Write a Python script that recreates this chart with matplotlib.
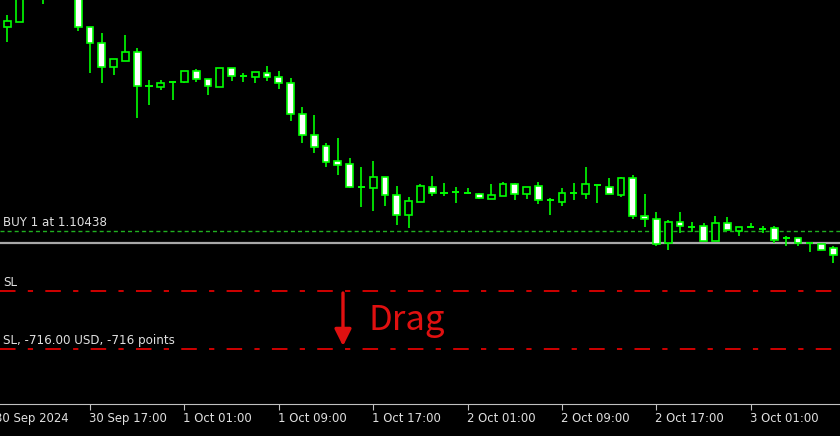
import numpy as np
import matplotlib
matplotlib.use('Agg')
import matplotlib.pyplot as plt

# hourly candles, 30 Sep 10:00 .. 3 Oct 08:00
opens = [1.11681, 1.11711, 1.11936, 1.11894, 1.11997, 1.12089, 1.11967, 1.11681, 1.11583, 1.11437,
         1.11474, 1.11528, 1.11321, 1.11315, 1.11346, 1.11346, 1.11413, 1.11364, 1.11315, 1.11431,
         1.11382, 1.11376, 1.11400, 1.11376, 1.11340, 1.11151, 1.11023, 1.10956, 1.10865, 1.10846,
         1.10706, 1.10700, 1.10767, 1.10657, 1.10536, 1.10615, 1.10706, 1.10670, 1.10676, 1.10670,
         1.10664, 1.10633, 1.10651, 1.10724, 1.10664, 1.10712, 1.10627, 1.10615, 1.10670, 1.10664,
         1.10718, 1.10706, 1.10657, 1.10761, 1.10530, 1.10511, 1.10365, 1.10493, 1.10463, 1.10469,
         1.10377, 1.10487, 1.10438, 1.10463, 1.10450, 1.10456, 1.10396, 1.10396, 1.10365, 1.10359,
         1.10335]
highs = [1.11754, 1.11955, 1.12058, 1.12028, 1.12137, 1.12119, 1.11979, 1.11681, 1.11644, 1.11486,
         1.11632, 1.11553, 1.11358, 1.11358, 1.11352, 1.11413, 1.11425, 1.11364, 1.11431, 1.11431,
         1.11400, 1.11407, 1.11443, 1.11413, 1.11370, 1.11193, 1.11145, 1.10974, 1.11005, 1.10883,
         1.10828, 1.10865, 1.10767, 1.10712, 1.10645, 1.10724, 1.10773, 1.10731, 1.10706, 1.10700,
         1.10670, 1.10724, 1.10737, 1.10731, 1.10706, 1.10737, 1.10639, 1.10700, 1.10731, 1.10828,
         1.10718, 1.10761, 1.10767, 1.10779, 1.10664, 1.10554, 1.10505, 1.10554, 1.10493, 1.10487,
         1.10530, 1.10523, 1.10463, 1.10487, 1.10469, 1.10469, 1.10408, 1.10396, 1.10365, 1.10359,
         1.10347]
lows = [1.11589, 1.11711, 1.11882, 1.11821, 1.11967, 1.11918, 1.11656, 1.11400, 1.11340, 1.11388,
        1.11474, 1.11126, 1.11206, 1.11297, 1.11236, 1.11340, 1.11346, 1.11266, 1.11315, 1.11352,
        1.11346, 1.11340, 1.11352, 1.11303, 1.11108, 1.10974, 1.10913, 1.10828, 1.10779, 1.10700,
        1.10584, 1.10560, 1.10590, 1.10475, 1.10456, 1.10615, 1.10651, 1.10651, 1.10609, 1.10664,
        1.10633, 1.10633, 1.10651, 1.10627, 1.10633, 1.10603, 1.10536, 1.10590, 1.10627, 1.10633,
        1.10609, 1.10664, 1.10645, 1.10511, 1.10463, 1.10347, 1.10322, 1.10426, 1.10432, 1.10377,
        1.10377, 1.10444, 1.10408, 1.10456, 1.10426, 1.10365, 1.10347, 1.10347, 1.10310, 1.10322,
        1.10243]
closes = [1.11717, 1.11918, 1.12016, 1.11997, 1.12089, 1.11967, 1.11681, 1.11583, 1.11437, 1.11486,
          1.11528, 1.11321, 1.11321, 1.11340, 1.11346, 1.11413, 1.11364, 1.11321, 1.11431, 1.11382,
          1.11382, 1.11407, 1.11376, 1.11340, 1.11151, 1.11023, 1.10950, 1.10858, 1.10840, 1.10706,
          1.10706, 1.10767, 1.10657, 1.10536, 1.10621, 1.10712, 1.10670, 1.10670, 1.10676, 1.10670,
          1.10639, 1.10657, 1.10724, 1.10664, 1.10706, 1.10627, 1.10627, 1.10670, 1.10670, 1.10724,
          1.10718, 1.10664, 1.10761, 1.10530, 1.10511, 1.10359, 1.10493, 1.10469, 1.10463, 1.10377,
          1.10487, 1.10444, 1.10463, 1.10463, 1.10450, 1.10383, 1.10396, 1.10365, 1.10365, 1.10322,
          1.10292]

tick_idx = [-1, 7, 15, 23, 31, 39, 47, 55, 63]
tick_labels = ['30 Sep 2024', '30 Sep 17:00', '1 Oct 01:00', '1 Oct 09:00', '1 Oct 17:00',
               '2 Oct 01:00', '2 Oct 09:00', '2 Oct 17:00', '3 Oct 01:00']

buy_price = 1.10438
price_line = 1.10367
sl_old = 1.10075
sl_new = 1.09722

o = np.array(opens)
h = np.array(highs)
l = np.array(lows)
c = np.array(closes)
x = np.arange(len(o))

lime = '#00ff00'
fig = plt.figure(figsize=(8.4, 4.36), dpi=100, facecolor='black')
ax = fig.add_axes([0, 32 / 436, 1, 404 / 436], facecolor='black')

# wicks
ax.vlines(x, l, h, color=lime, lw=1.2, zorder=2)
# bodies
bull = c > o
bear = c < o
doji = c == o
ax.bar(x[bull], (c - o)[bull], bottom=o[bull], width=0.58, color='black',
       edgecolor=lime, linewidth=1.2, zorder=3)
ax.bar(x[bear], (c - o)[bear], bottom=o[bear], width=0.58, color='white',
       edgecolor=lime, linewidth=1.2, zorder=3)
ax.hlines(o[doji], x[doji] - 0.3, x[doji] + 0.3, color=lime, lw=1.4, zorder=3)

# trade lines
ax.axhline(buy_price, color='#20b020', lw=1, dashes=(2.9, 2.2), zorder=1)
ax.axhline(price_line, color='#a8a8a8', lw=1.6, zorder=1)
ax.axhline(sl_old, color='#e00000', lw=1.3, dashes=(8.6, 6.8, 2.9, 6.8), zorder=1)
ax.axhline(sl_new, color='#e00000', lw=1.3, dashes=(8.6, 6.8, 2.9, 6.8), zorder=1)

xmin, xmax = -0.627, 70.56
ax.set_xlim(xmin, xmax)
ax.set_ylim(1.09385, 1.11845)

lbl = dict(color='#e0e0e0', fontsize=8.6, family='DejaVu Sans', va='bottom', ha='left')
ax.annotate('BUY 1 at 1.10438', (xmin, buy_price), xytext=(3, 2), textcoords='offset pixels', **lbl)
ax.annotate('SL', (xmin, sl_old), xytext=(3, 2), textcoords='offset pixels', **lbl)
ax.annotate('SL, -716.00 USD, -716 points', (xmin, sl_new), xytext=(3, 2),
            textcoords='offset pixels', **lbl)

# drag hint
ax.annotate('', xy=(28.44, 1.09738), xytext=(28.44, 1.10061),
            arrowprops=dict(arrowstyle='-|>,head_width=0.5,head_length=1.0', color='#e01010', lw=2.4,
                            shrinkA=0, shrinkB=0))
ax.text(30.64, 1.09895, 'Drag', color='#e01010', fontsize=25, family='Noto Sans CJK JP',
        va='center', ha='left')

# x axis
for s in ['left', 'right', 'top']:
    ax.spines[s].set_visible(False)
ax.spines['bottom'].set_color('#c0c0c0')
ax.set_yticks([])
ax.set_xticks(tick_idx[1:])
ax.set_xticklabels([])
ax.tick_params(axis='x', colors='#c0c0c0', length=4, direction='out')
for i, t in zip(tick_idx, tick_labels):
    ax.text(i - 0.08, -0.035, t, transform=ax.get_xaxis_transform(), color='#e0e0e0',
            fontsize=8.4, family='DejaVu Sans', ha='left', va='center', clip_on=False)

fig.savefig('out.png', dpi=100, facecolor='black')
